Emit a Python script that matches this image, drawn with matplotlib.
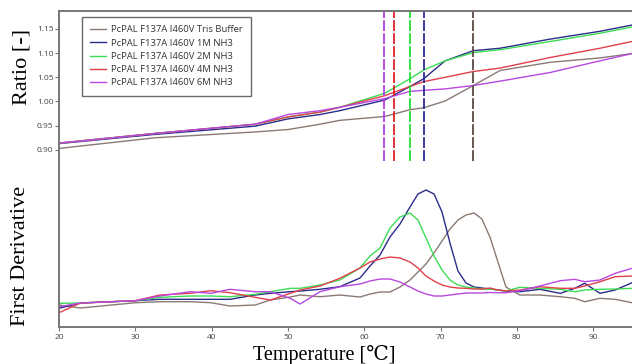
import matplotlib.pyplot as plt
import numpy as np

# ratio curves (upper panel)
t_ratio = [20, 32.6, 45.7, 50, 54.2, 56.8, 62.7, 66, 67.8, 70.6, 74.3, 77.8, 84.4, 90.9, 95.1]
ratio_tris = [0.903, 0.925, 0.937, 0.942, 0.953, 0.961, 0.969, 0.983, 0.987, 1.001, 1.033, 1.064, 1.081, 1.090, 1.099]
ratio_1m = [0.913, 0.932, 0.949, 0.964, 0.973, 0.981, 1.003, 1.031, 1.047, 1.084, 1.105, 1.110, 1.129, 1.145, 1.158]
ratio_2m = [0.914, 0.934, 0.953, 0.968, 0.978, 0.988, 1.017, 1.047, 1.065, 1.084, 1.101, 1.107, 1.124, 1.141, 1.154]
ratio_4m = [0.914, 0.934, 0.953, 0.968, 0.978, 0.988, 1.012, 1.031, 1.041, 1.050, 1.062, 1.069, 1.091, 1.110, 1.124]
ratio_6m = [0.914, 0.934, 0.953, 0.973, 0.981, 0.988, 1.006, 1.021, 1.023, 1.026, 1.033, 1.042, 1.060, 1.084, 1.099]

# first derivative (lower panel, arbitrary units)
t_deriv = [20, 22.8, 30, 33.2, 37.2, 39.9, 42.4, 45.7, 47.7, 50.3, 51.6, 54.2, 56.8,
           59.45, 60.76, 62.07, 63.38, 64.69, 66.0, 67.05, 68.1, 69.15, 70.2, 71.24, 72.29,
           73.34, 74.39, 75.43, 76.48, 77.53, 78.58,
           80.4, 83, 85.7, 87.6, 88.9, 90.9, 92.9, 95.1]
d_tris = [0.22, 0.19, 0.243, 0.253, 0.253, 0.243, 0.21, 0.22, 0.27, 0.30, 0.32, 0.303, 0.32,
          0.30, 0.33, 0.35, 0.35, 0.40, 0.47, 0.55, 0.63, 0.74, 0.86, 0.98, 1.07,
          1.12, 1.14, 1.08, 0.90, 0.65, 0.40,
          0.32, 0.32, 0.303, 0.287, 0.253, 0.287, 0.277, 0.243]
d_1m = [0.187, 0.24, 0.263, 0.277, 0.277, 0.277, 0.277, 0.32, 0.337, 0.353, 0.36, 0.377, 0.403,
        0.49, 0.61, 0.72, 0.90, 1.03, 1.20, 1.33, 1.37, 1.33, 1.15, 0.84, 0.56,
        0.44, 0.40, 0.39, 0.38, 0.37, 0.36,
        0.353, 0.377, 0.337, 0.387, 0.437, 0.337, 0.37, 0.443]
d_2m = [0.237, 0.24, 0.263, 0.297, 0.31, 0.31, 0.303, 0.327, 0.353, 0.387, 0.387, 0.42, 0.47,
        0.59, 0.71, 0.79, 0.99, 1.10, 1.14, 1.07, 0.89, 0.71, 0.57, 0.47, 0.42,
        0.40, 0.39, 0.38, 0.38, 0.37, 0.36,
        0.397, 0.387, 0.377, 0.353, 0.37, 0.377, 0.38, 0.387]
d_4m = [0.143, 0.24, 0.263, 0.32, 0.337, 0.363, 0.343, 0.297, 0.27, 0.337, 0.37, 0.41, 0.487,
        0.59, 0.65, 0.68, 0.70, 0.69, 0.65, 0.59, 0.51, 0.46, 0.42, 0.40, 0.39,
        0.387, 0.38, 0.38, 0.39, 0.37, 0.36,
        0.37, 0.403, 0.387, 0.387, 0.41, 0.453, 0.503, 0.51]
d_6m = [0.203, 0.24, 0.263, 0.31, 0.353, 0.337, 0.377, 0.353, 0.353, 0.287, 0.23, 0.353, 0.403,
        0.43, 0.46, 0.48, 0.48, 0.45, 0.40, 0.36, 0.33, 0.31, 0.31, 0.32, 0.33,
        0.34, 0.34, 0.34, 0.345, 0.343, 0.343,
        0.363, 0.41, 0.463, 0.477, 0.453, 0.47, 0.537, 0.587]

# melting temperatures (dashed markers)
tm = [74.3, 67.8, 66.0, 63.9, 62.6]

labels = ['PcPAL F137A I460V Tris Buffer', 'PcPAL F137A I460V 1M NH3',
          'PcPAL F137A I460V 2M NH3', 'PcPAL F137A I460V 4M NH3',
          'PcPAL F137A I460V 6M NH3']
colors = ['#8a7a74', '#2c2c8a', '#3ddc55', '#e0404a', '#b848e0']
tm_colors = ['#5a4a44', '#2a2a9a', '#22dd33', '#e0202a', '#b23fe0']

ratios = [ratio_tris, ratio_1m, ratio_2m, ratio_4m, ratio_6m]
derivs = [d_tris, d_1m, d_2m, d_4m, d_6m]

fig = plt.figure(figsize=(6.32, 3.64), dpi=100)
ax1 = fig.add_axes([0.0934, 0.5577, 0.9066, 0.4121])
ax2 = fig.add_axes([0.0934, 0.1016, 0.9066, 0.4561], sharex=ax1)

for r, c, lab in zip(ratios, colors, labels):
    ax1.plot(t_ratio, r, color=c, lw=1.0, label=lab)
for t, c in zip(tm, tm_colors):
    ax1.axvline(t, color=c, lw=1.3, ls=(0, (6, 1.2)))

for d, c in zip(derivs, colors):
    ax2.plot(t_deriv, d, color=c, lw=1.0)

ax1.set_xlim(20, 95.1)
ax1.set_ylim(0.877, 1.187)
ax2.set_ylim(0, 1.66)

spine_col = '#777777'
for ax in (ax1, ax2):
    ax.spines['right'].set_visible(False)
    ax.spines['left'].set_color(spine_col)
    ax.spines['left'].set_linewidth(1.4)
ax1.spines['bottom'].set_visible(False)
ax1.spines['top'].set_color(spine_col)
ax1.spines['top'].set_linewidth(1.4)
ax2.spines['top'].set_visible(False)
ax2.spines['bottom'].set_color(spine_col)
ax2.spines['bottom'].set_linewidth(1.4)

sans = ['Open Sans', 'DejaVu Sans']
ax1.set_yticks([0.90, 0.95, 1.00, 1.05, 1.10, 1.15])
ax1.set_yticklabels(['0.90', '0.95', '1.00', '1.05', '1.10', '1.15'], family=sans)
ax1.tick_params(axis='y', labelsize=6, colors=spine_col, labelcolor='#444444', length=3, pad=1)
ax1.tick_params(axis='x', bottom=False, labelbottom=False)

ax2.set_yticks([])
ax2.set_xticks([20, 30, 40, 50, 60, 70, 80, 90])
ax2.set_xticklabels(['20', '30', '40', '50', '60', '70', '80', '90'], family=sans)
ax2.tick_params(axis='x', labelsize=6, colors=spine_col, labelcolor='#444444', length=3, pad=2)

serif = ['Liberation Serif', 'DejaVu Serif']
ax1.set_ylabel('Ratio [-]', family=serif, fontsize=16)
ax1.yaxis.set_label_coords(-0.0646, 0.627)
ax1.yaxis.label.set_va('center')
ax2.set_ylabel('First Derivative', family=serif, fontsize=16)
ax2.yaxis.set_label_coords(-0.0681, 0.428)
ax2.yaxis.label.set_va('center')
ax2.set_xlabel('Temperature [℃]', family=serif, fontsize=14.5)
ax2.xaxis.set_label_coords(0.4625, -0.197)
ax2.xaxis.label.set_va('baseline')

leg = ax1.legend(loc='upper left', bbox_to_anchor=(0.04, 0.96), borderaxespad=0,
                 prop={'family': sans, 'size': 6.8},
                 frameon=True, fancybox=False, handlelength=1.6, borderpad=0.9,
                 labelspacing=0.45, handletextpad=0.6)
leg.get_frame().set_edgecolor('#444444')
leg.get_frame().set_linewidth(1.0)
for txt in leg.get_texts():
    txt.set_color('#333333')

fig.savefig('out.png', dpi=100)
